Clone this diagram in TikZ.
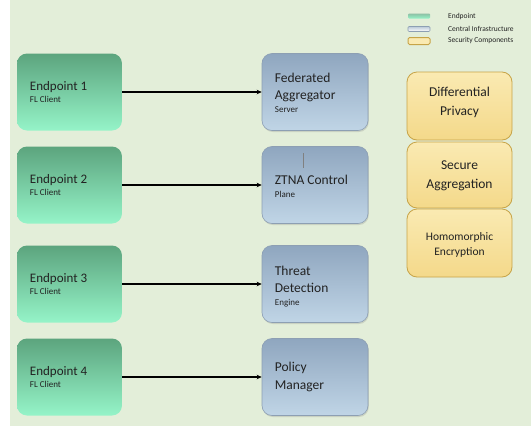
\documentclass[tikz,border=0pt]{standalone}
\usepackage{fontspec}
\setmainfont{Carlito}
\usetikzlibrary{arrows.meta,shadows}
\definecolor{bg}{HTML}{E3EED9}
\definecolor{gtop}{HTML}{5CA47E}
\definecolor{gbot}{HTML}{95F4C8}
\definecolor{btop}{HTML}{8FA6BF}
\definecolor{bbot}{HTML}{C0D5E6}
\definecolor{bdraw}{HTML}{8D9FB3}
\definecolor{ytop}{HTML}{FAEAB2}
\definecolor{ybot}{HTML}{F4D98A}
\definecolor{ydraw}{HTML}{C7A448}
\definecolor{txt}{HTML}{222222}
\newcommand\subtxt{\fontsize{9}{11}\selectfont}
\tikzset{
  epbox/.style={rounded corners=10pt, top color=gtop, bottom color=gbot, draw=none, minimum width=105pt, minimum height=77pt, inner sep=0pt},
  infbox/.style={rounded corners=10pt, top color=btop, bottom color=bbot, draw=bdraw, line width=0.6pt, minimum width=106pt, minimum height=77pt, inner sep=0pt, drop shadow={opacity=0.25, shadow xshift=0.8pt, shadow yshift=-1.5pt}},
  secbox/.style={rounded corners=10pt, top color=ytop, bottom color=ybot, draw=ydraw, line width=0.8pt, minimum width=105pt, inner sep=0pt},
  lbl/.style={anchor=west, align=left, text=txt, font=\fontsize{13}{15}\selectfont, inner sep=0pt},
  seclbl/.style={align=center, text=txt, font=\fontsize{13.5}{19}\selectfont},
  legtxt/.style={anchor=west, text=txt, font=\fontsize{7.5}{8}\selectfont, inner sep=0pt},
  flow/.style={-{Stealth[length=5pt,width=4.5pt]}, line width=1.3pt, black}
}
\begin{document}
\begin{tikzpicture}[x=1pt,y=-1pt]
\useasboundingbox (0,0) rectangle (531,426);
\fill[white] (0,0) rectangle (531,426);
\fill[bg] (10,0) rectangle (531,426);
% legend
\node[rounded corners=1pt, top color=gtop!70, bottom color=gbot, minimum width=22pt, minimum height=5pt, inner sep=0pt] (lg1) at (419,16) {};
\node[rounded corners=1pt, top color=btop!60, bottom color=white, draw=bdraw, line width=0.6pt, minimum width=22pt, minimum height=5pt, inner sep=0pt] (lg2) at (419,29) {};
\node[rounded corners=1.5pt, fill=ytop, draw=ydraw, line width=1pt, minimum width=22pt, minimum height=7pt, inner sep=0pt] (lg3) at (419,41) {};
\node[legtxt] (lt1) at (448,16) {Endpoint};
\node[legtxt] (lt2) at (448,29) {Central Infrastructure};
\node[legtxt] (lt3) at (448,41) {Security Components};
% endpoints
\node[epbox] (e1) at (69.5,92) {};
\node[epbox] (e2) at (69.5,185) {};
\node[epbox] (e3) at (69.5,284) {};
\node[epbox] (e4) at (69.5,377) {};
\node[lbl] (e1t) at ([xshift=13pt]e1.west) {Endpoint 1\\[-3pt]{\subtxt FL Client}};
\node[lbl] (e2t) at ([xshift=13pt]e2.west) {Endpoint 2\\[-3pt]{\subtxt FL Client}};
\node[lbl] (e3t) at ([xshift=13pt]e3.west) {Endpoint 3\\[-3pt]{\subtxt FL Client}};
\node[lbl] (e4t) at ([xshift=13pt]e4.west) {Endpoint 4\\[-3pt]{\subtxt FL Client}};
% infrastructure
\node[infbox] (c1) at (315,92) {};
\node[infbox] (c2) at (315,185) {};
\node[infbox] (c3) at (315,284) {};
\node[infbox] (c4) at (315,377) {};
\node[lbl, font=\fontsize{13.5}{17}\selectfont] (c1t) at ([xshift=13pt,yshift=-1pt]c1.west) {Federated\\Aggregator\\[-4pt]{\subtxt Server}};
\node[lbl, font=\fontsize{13.5}{16}\selectfont] (c2t) at ([xshift=13pt,yshift=-1pt]c2.west) {ZTNA Control\\[-3pt]{\subtxt Plane}};
\node[lbl, font=\fontsize{13.5}{17}\selectfont] (c3t) at ([xshift=13pt,yshift=-3pt]c3.west) {Threat\\Detection\\[-4pt]{\subtxt Engine}};
\node[lbl, font=\fontsize{13.5}{18}\selectfont] (c4t) at ([xshift=13pt]c4.west) {Policy\\Manager};
\coordinate (tk1) at (303,153);
\coordinate (tk2) at (303,168);
\draw[gray, line width=0.8pt] (tk1) -- (tk2);
% arrows
\draw[flow] (e1.east) -- (c1.west);
\draw[flow] (e2.east) -- (c2.west);
\draw[flow] (e3.east) -- (c3.west);
\draw[flow] (e4.east) -- (c4.west);
% security
\node[secbox, minimum height=68pt] (s1) at (459.5,106) {};
\node[secbox, minimum height=66pt] (s2) at (459.5,175) {};
\node[secbox, minimum height=68pt] (s3) at (459.5,243) {};
\node[seclbl] (s1t) at ([yshift=4pt]s1.center) {Differential\\Privacy};
\node[seclbl] (s2t) at ([yshift=-1pt]s2.center) {Secure\\Aggregation};
\node[seclbl, font=\fontsize{11.5}{15}\selectfont] (s3t) at ([yshift=-2pt]s3.center) {Homomorphic\\Encryption};
\end{tikzpicture}
\end{document}
